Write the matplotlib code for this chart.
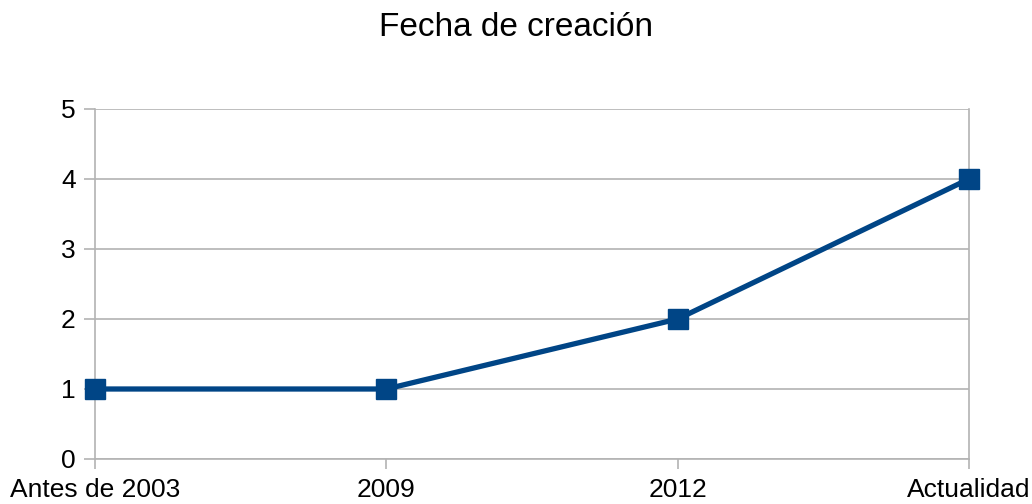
import matplotlib
matplotlib.use("Agg")
import matplotlib.pyplot as plt

categories = ["Antes de 2003", "2009", "2012", "Actualidad"]
values = [1, 1, 2, 4]
yticks = [0, 1, 2, 3, 4, 5]
title = "Fecha de creación"

plt.rcParams['font.family'] = ['Liberation Sans', 'DejaVu Sans']

fig = plt.figure(figsize=(10.32, 5.04), dpi=100)
ax = fig.add_axes([95/1032, 1-459/504, (969-95)/1032, (459-109)/504])

grid_c = "#b3b3b3"
line_c = "#004586"

x = list(range(len(categories)))
ax.plot(x, values, color=line_c, linewidth=3.8, marker='s', markersize=14,
        markerfacecolor=line_c, markeredgecolor=line_c, clip_on=False, zorder=5)

ax.set_xlim(0, len(categories) - 1)
ax.set_ylim(0, 5)
ax.set_xticks(x)
ax.set_xticklabels(categories)
ax.set_yticks(yticks)
ax.yaxis.grid(True, color=grid_c, linewidth=1.2)
ax.set_axisbelow(True)

for s in ['left', 'right', 'bottom']:
    ax.spines[s].set_color(grid_c)
    ax.spines[s].set_linewidth(1.2)
ax.spines['top'].set_visible(False)

ax.tick_params(axis='both', colors=grid_c, labelcolor='black', labelsize=19, width=1.2)
ax.tick_params(axis='y', length=8, pad=6)
ax.tick_params(axis='x', length=7.5, pad=6)

fig.text(0.5, 1-28/504, title, ha='center', va='center', fontsize=24)

fig.savefig("out.png", dpi=100)
